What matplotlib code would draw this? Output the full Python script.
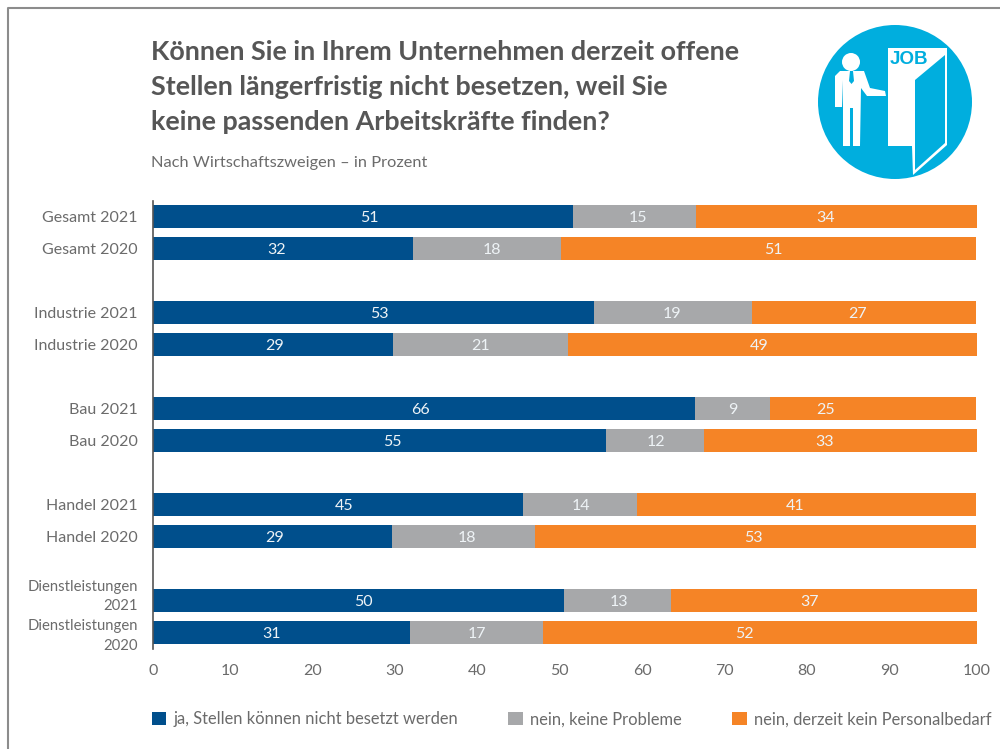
import numpy as np
import matplotlib
matplotlib.use('Agg')
import matplotlib.pyplot as plt
from matplotlib.patches import Circle, Polygon
from matplotlib.transforms import ScaledTranslation

plt.rcParams['font.family'] = ['Lato', 'DejaVu Sans']

labels = ['Gesamt 2021', 'Gesamt 2020', 'Industrie 2021', 'Industrie 2020',
          'Bau 2021', 'Bau 2020', 'Handel 2021', 'Handel 2020',
          'Dienstleistungen\n2021', 'Dienstleistungen\n2020']
# printed values
ja = [51, 32, 53, 29, 66, 55, 45, 29, 50, 31]
nein = [15, 18, 19, 21, 9, 12, 14, 18, 13, 17]
kein_bedarf = [34, 51, 27, 49, 25, 33, 41, 53, 37, 52]
# bar lengths as measured, they differ a bit from the printed values
ja_len = [51.0, 31.6, 53.5, 29.2, 65.8, 55.0, 44.9, 29.0, 49.9, 31.2]
nein_len = [14.9, 17.9, 19.2, 21.2, 9.1, 11.9, 13.9, 17.4, 13.0, 16.2]
kein_bedarf_len = [34.1, 50.5, 27.3, 49.6, 25.1, 33.1, 41.1, 53.5, 37.1, 52.6]
legend_labels = ['ja, Stellen können nicht besetzt werden',
                 'nein, keine Probleme',
                 'nein, derzeit kein Personalbedarf']
ticks = list(range(0, 101, 10))

title_lines = ['Können Sie in Ihrem Unternehmen derzeit offene',
               'Stellen längerfristig nicht besetzen, weil Sie',
               'keine passenden Arbeitskräfte finden?']
subtitle = 'Nach Wirtschaftszweigen – in Prozent'

# the value labels are not centred in the original, shift in px per segment
ja_shift = [6, -7, 6, 1, -3, 13, 6, 2, 5, -10]
nein_shift = [4, 5, -1, 0, 0, 1, 1, 3, 1, 0]
kein_bedarf_shift = [-11, 5, -7, -13, -48, -16, -11, -2, -14, -15]

BLUE = '#004f8c'
GREY = '#a7a8aa'
ORANGE = '#f58426'
SKY = '#00aede'
TEXT = '#6b6b6b'
PT = 0.72  # points per pixel at dpi 100

fig = plt.figure(figsize=(10, 7.49), dpi=100)

# overlay in pixel coordinates for frame, title and icon
bg = fig.add_axes([0, 0, 1, 1])
bg.set_xlim(0, 1000)
bg.set_ylim(749, 0)
bg.axis('off')
bg.plot([8, 8, 1000], [749, 8, 8], color='#8c8c8c', lw=1.5)
for y, line in zip([52, 87, 122], title_lines):
    bg.text(151, y, line, fontsize=19.4, fontweight='bold', color='#565656', va='center')
bg.text(151, 163, subtitle, fontsize=11.8, color=TEXT, va='center')

# job icon
bg.add_patch(Circle((895, 102), 77, color=SKY, lw=0))
bg.add_patch(Circle((851, 62), 9, color='white', lw=0))
bg.add_patch(Polygon([(840, 71), (864, 71), (870, 88), (885, 91), (886, 96), (867, 96),
                      (861, 88), (860, 146), (853, 146), (853, 108), (850, 108), (850, 146),
                      (843, 146), (843, 80), (842, 107), (835, 107), (835, 76)],
                     closed=True, color='white', lw=0))
bg.add_patch(Polygon([(850, 71), (853, 71), (854, 81), (851.5, 84), (849, 81)], color=SKY, lw=0))
bg.add_patch(Polygon([(888, 48), (947, 48), (947, 145), (913, 175), (912, 146), (888, 146)],
                     closed=True, color='white', lw=0))
bg.add_patch(Polygon([(915, 80), (945, 55), (945, 143), (915, 170)], closed=True, color=SKY, lw=0))
bg.text(909, 60, 'JOB', fontsize=13.5, fontweight='bold', color=SKY, ha='center', va='center',
        family=['Liberation Sans'])

# chart axes: y is measured in rows, 32 within a group and 96 between groups
ax = fig.add_axes([0.153, 1 - 648.5 / 749, 0.8235, 448 / 749])
ax.patch.set_alpha(0)
rows = np.array([g * 96 + i * 32 for g in range(5) for i in range(2)])
ax.set_ylim(432, -16)

left = np.zeros(len(ja))
series = zip([ja, nein, kein_bedarf], [ja_len, nein_len, kein_bedarf_len],
             [ja_shift, nein_shift, kein_bedarf_shift], [BLUE, GREY, ORANGE], legend_labels)
for values, lengths, shifts, colour, name in series:
    bars = ax.barh(rows, lengths, left=left, height=23, color=colour, label=name)
    texts = ax.bar_label(bars, labels=[str(v) for v in values], label_type='center',
                         color='#eef3f6', fontsize=11.5)
    for t, dx in zip(texts, shifts):
        t.xyann = (dx * PT, -1.2)
    left = left + np.array(lengths)

ax.set_xlim(0, 100)
ax.set_xticks(ticks)
ax.set_yticks(rows)
ax.set_yticklabels(labels, ma='right', linespacing=1.5)
ax.tick_params(axis='both', length=0, labelsize=11.5, labelcolor=TEXT)
ax.tick_params(axis='y', pad=11)
ax.tick_params(axis='x', pad=11)
for side in ['top', 'right', 'bottom']:
    ax.spines[side].set_visible(False)
ax.spines['left'].set_color('#555555')
ax.spines['left'].set_linewidth(1.2)

# original tick labels sit a little left of their grid position
for lab in ax.get_xticklabels()[1:-1]:
    lab.set_transform(lab.get_transform() + ScaledTranslation(-5 * PT / 72, 0, fig.dpi_scale_trans))

ylabs = ax.get_yticklabels()
for lab in ylabs[8:]:
    lab.set_fontsize(10.7)
ylabs[8].set_transform(ylabs[8].get_transform() + ScaledTranslation(0, 8 * PT / 72, fig.dpi_scale_trans))
ylabs[9].set_transform(ylabs[9].get_transform() + ScaledTranslation(0, 1 * PT / 72, fig.dpi_scale_trans))

fig.legend(loc='lower left', bbox_to_anchor=(0.1515, 0.029), ncols=3, frameon=False,
           fontsize=11.9, labelcolor=TEXT, handlelength=0.9, handleheight=0.9,
           handletextpad=0.45, columnspacing=3.0, borderaxespad=0, borderpad=0)

fig.savefig('out.png', dpi=100)
